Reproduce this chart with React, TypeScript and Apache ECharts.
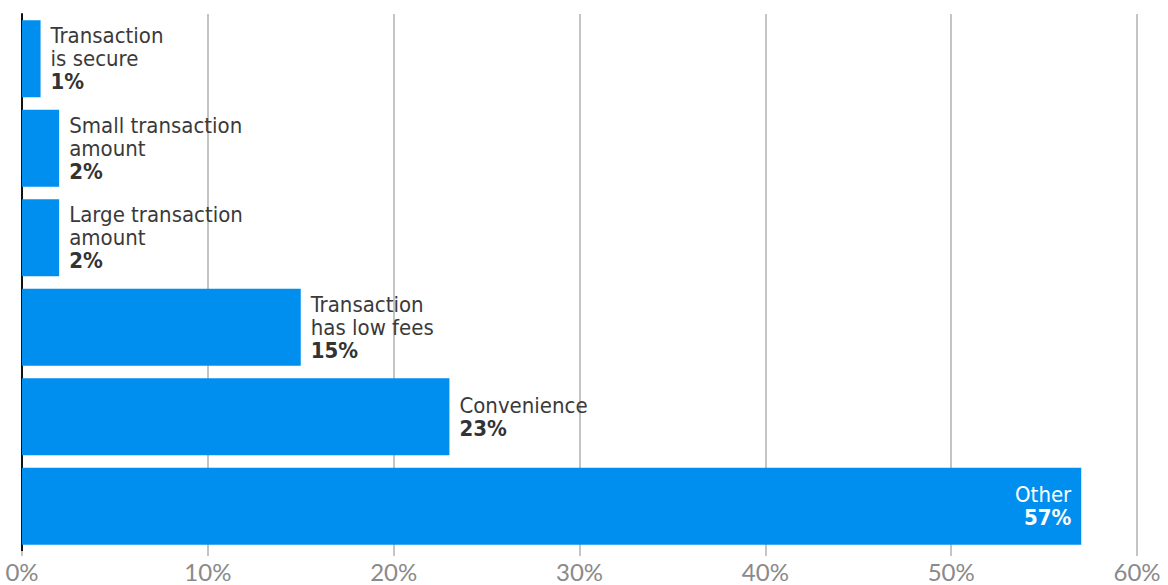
import React, { useEffect, useRef } from "react";
import * as echarts from "echarts";

const categories = [
  "Transaction\nis secure",
  "Small transaction\namount",
  "Large transaction\namount",
  "Transaction\nhas low fees",
  "Convenience",
  "Other",
];
const values = [1, 2, 2, 15, 23, 57];
const xTicks = [0, 10, 20, 30, 40, 50, 60];

const FONT = "'Liberation Sans Narrow', 'DejaVu Sans Condensed', 'Roboto', sans-serif";

export default function App() {
  const ref = useRef<HTMLDivElement>(null);
  useEffect(() => {
    if (!ref.current) return;
    const chart = echarts.init(ref.current, undefined, { renderer: "svg" });
    const cats = [...categories].reverse();
    const vals = [...values].reverse();
    const data = vals.map((v, i) => {
      const inside = v > 40;
      return {
        value: v,
        label: inside
          ? {
              show: true,
              position: "insideRight",
              distance: 10,
              align: "right",
              formatter: () => `{nw|${cats[i]}}\n{vw|${v}%}`,
            }
          : {
              show: true,
              position: "right",
              distance: 10,
              align: "left",
              formatter: () =>
                cats[i]
                  .split("\n")
                  .map((s) => `{n|${s}}`)
                  .join("\n") + `\n{v|${v}%}`,
            },
      };
    });
    chart.setOption({
      animation: false,
      grid: { left: 22, right: 31, top: 14, bottom: 34, containLabel: false },
      xAxis: {
        type: "value",
        min: 0,
        max: 60,
        interval: 10,
        axisLine: { show: false },
        axisTick: { show: true, length: 5, lineStyle: { color: "#c4c4c4", width: 2 } },
        splitLine: { show: true, lineStyle: { color: "#c4c4c4", width: 2 } },
        axisLabel: {
          color: "#8a8a8a",
          fontFamily: "Lato, sans-serif",
          fontSize: 24,
          margin: 8,
          formatter: (v: number) => (xTicks.includes(v) ? `${v}%` : ""),
        },
      },
      yAxis: {
        type: "category",
        data: cats,
        axisLine: { show: true, lineStyle: { color: "#111", width: 2 } },
        axisTick: { show: false },
        axisLabel: { show: false },
        splitLine: { show: false },
      },
      series: [
        {
          type: "bar",
          data,
          barCategoryGap: "14%",
          itemStyle: { color: "#008fee" },
          label: {
            show: true,
            rich: {
              n: { fontFamily: FONT, fontSize: 22, color: "#3a3a3a", lineHeight: 23 },
              v: {
                fontFamily: FONT,
                fontSize: 22,
                fontWeight: "bold",
                color: "#333",
                lineHeight: 23,
              },
              nw: {
                fontFamily: FONT,
                fontSize: 22,
                color: "#fff",
                lineHeight: 23,
                align: "right",
              },
              vw: {
                fontFamily: FONT,
                fontSize: 22,
                fontWeight: "bold",
                color: "#fff",
                lineHeight: 23,
                align: "right",
              },
            },
          },
        },
      ],
    });
    return () => chart.dispose();
  }, []);
  return (
    <div
      ref={ref}
      style={{ position: "fixed", left: 0, top: 0, width: 1168, height: 585, background: "#fff" }}
    />
  );
}
